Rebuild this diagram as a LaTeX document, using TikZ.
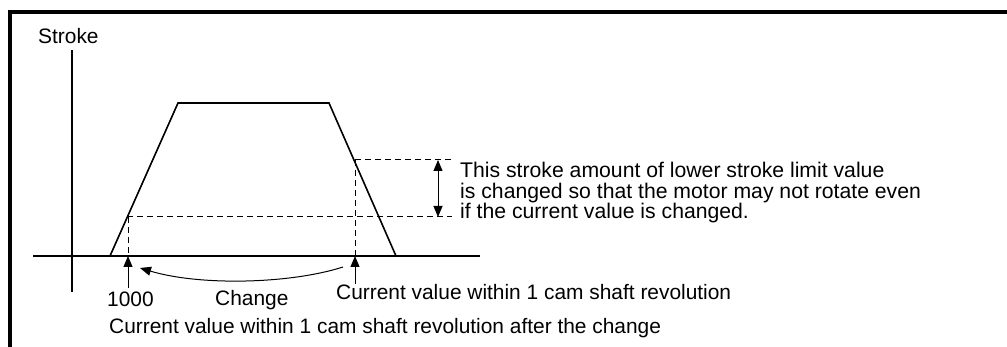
\documentclass[tikz,border=0pt]{standalone}
\usepackage{fontspec}
\setmainfont{Liberation Sans}
\usetikzlibrary{arrows.meta}
\begin{document}
\begin{tikzpicture}[x=1pt,y=-1pt,
  lbl/.style={inner sep=0pt,font=\fontsize{20.9}{20.5}\selectfont},
  axis/.style={line width=2.6pt},
  curve/.style={line width=1.6pt},
  guide/.style={line width=1pt,dash pattern=on 6pt off 4pt},
  tip/.style={-{Triangle[length=11pt,width=9pt]},line width=1pt}]
\useasboundingbox (0,0) rectangle (1007,347);
% frame
\draw[line width=4pt] (10,347) -- (10,12) -- (1007,12);
% axes
\coordinate (yb) at (72,292); \coordinate (yt) at (72,50);
\coordinate (xl) at (33,256); \coordinate (xr) at (480,256);
\draw[axis] (yb) -- (yt);
\draw[axis] (xl) -- (xr);
\node[lbl,anchor=base west] (stroke) at (38,43.5) {Stroke};
% trapezoid
\coordinate (t1) at (110,256); \coordinate (t2) at (178,103);
\coordinate (t3) at (329,103); \coordinate (t4) at (396,256);
\draw[curve,line join=miter] (t1) -- (t2) -- (t3) -- (t4);
% guides
\coordinate (u1) at (355,160); \coordinate (u2) at (452,160);
\coordinate (l1) at (127,217); \coordinate (l2) at (452,217);
\coordinate (ub) at (355,256); \coordinate (lb) at (128,256);
\draw[guide] (u1) -- (u2);
\draw[guide] (l1) -- (l2);
\draw[guide] (u1) -- (ub);
\draw[guide] (128,217) -- (lb);
% double arrow
\coordinate (da) at (438,160); \coordinate (db) at (438,217);
\draw[{Triangle[length=11pt,width=9pt]}-{Triangle[length=11pt,width=9pt]},line width=1pt] (da) -- (db);
\node[lbl,font=\fontsize{21.2}{20.5}\selectfont,anchor=north west,align=left] (note) at (460,162) {This stroke amount of lower stroke limit value\\is changed so that the motor may not rotate even\\if the current value is changed.};
% arrows on x axis
\coordinate (a1) at (128,288); \coordinate (a2) at (355,284);
\draw[tip] (a1) -- (lb);
\draw[tip] (a2) -- (ub);
\coordinate (c1) at (343,267); \coordinate (c2) at (140,268);
\draw[tip] (c1) .. controls (290,284) and (200,286) .. (c2);
% labels
\node[lbl,anchor=base west] (n1000) at (107,306.5) {1000};
\node[lbl,anchor=base west] (chg) at (215,305.5) {Change};
\node[lbl,anchor=base west] (cur) at (336,300) {Current value within 1 cam shaft revolution};
\node[lbl,anchor=base west] (after) at (109,334) {Current value within 1 cam shaft revolution after the change};
\end{tikzpicture}
\end{document}
